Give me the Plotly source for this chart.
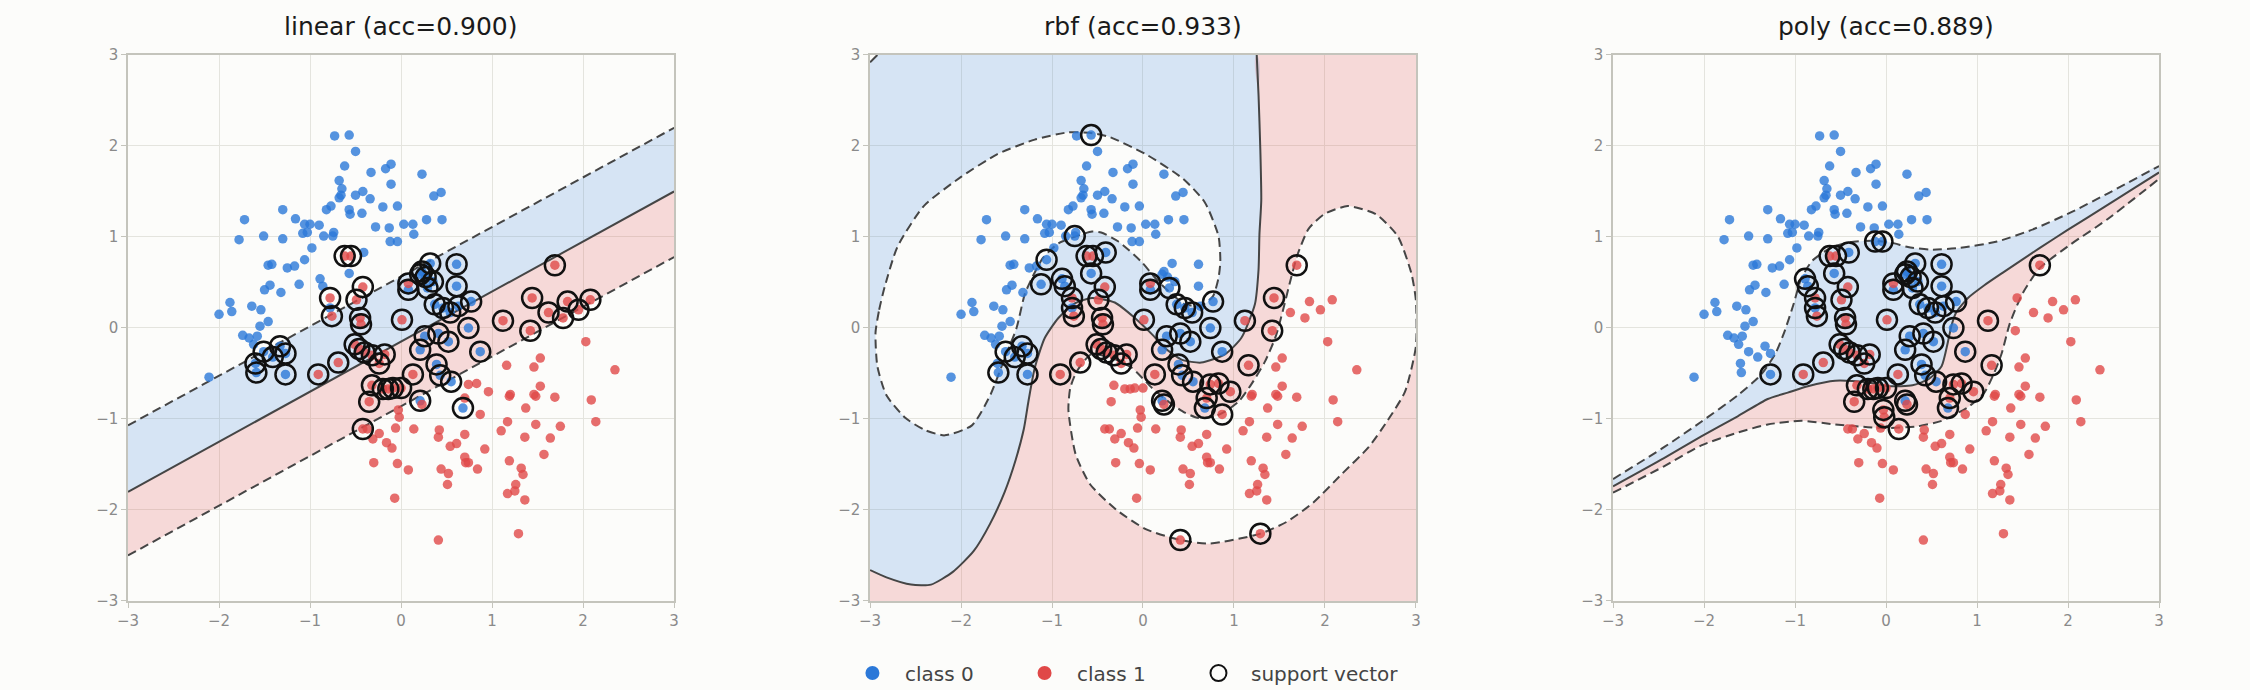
import plotly.graph_objects as go

# ---------------- data ----------------
titles = ["linear (acc=0.900)", "rbf (acc=0.933)", "poly (acc=0.889)"]
tick_vals = [-3, -2, -1, 0, 1, 2, 3]

class0_points = [
    (-0.73, 2.11), (-0.57, 2.12), (-0.50, 1.94), (-0.62, 1.78), (-0.33, 1.71), (-0.11, 1.80), (-0.17, 1.75), (0.23, 1.69),
    (-0.68, 1.62), (-0.65, 1.53), (-0.66, 1.46), (-0.68, 1.43), (-0.50, 1.46), (-0.42, 1.50), (-0.34, 1.42), (-0.11, 1.58),
    (-0.04, 1.34), (0.36, 1.45), (0.44, 1.49), (-0.57, 1.30), (-0.56, 1.25), (-0.43, 1.26), (-0.20, 1.33), (-0.82, 1.30),
    (-0.77, 1.34), (-1.30, 1.30), (-1.16, 1.20), (-1.72, 1.19), (-1.06, 1.14), (-1.00, 1.14), (-0.90, 1.13), (-1.08, 1.04),
    (-1.03, 1.05), (-0.85, 1.01), (-0.74, 1.05), (-0.75, 1.01), (-0.28, 1.11), (-0.13, 1.10), (0.03, 1.14), (0.13, 1.14),
    (0.28, 1.19), (0.45, 1.19), (0.14, 1.03), (-1.78, 0.97), (-1.51, 1.01), (-1.30, 0.98), (-0.98, 0.88), (-1.06, 0.75),
    (-1.46, 0.69), (-1.42, 0.70), (-1.25, 0.66), (-1.17, 0.68), (-1.12, 0.48), (-1.44, 0.47), (-1.50, 0.42), (-1.32, 0.39),
    (-1.88, 0.28), (-1.86, 0.18), (-2.00, 0.15), (-1.64, 0.24), (-1.54, 0.20), (-1.46, 0.07), (-1.55, 0.02), (-1.58, -0.09),
    (-1.74, -0.08), (-1.67, -0.11), (-1.62, -0.18), (-1.51, -0.26), (-1.33, -0.20), (-1.41, -0.32), (-1.27, -0.28), (-1.60, -0.39),
    (-1.59, -0.49), (-2.11, -0.54), (-1.27, -0.51),
    (-0.89, 0.54), (-0.86, 0.46), (-0.57, 0.60), (-0.41, 0.83), (-0.78, 0.22), (-0.12, 0.95), (-0.04, 0.95),
    (0.32, 0.71), (0.61, 0.70), (0.23, 0.62), (0.21, 0.59), (0.27, 0.56), (0.35, 0.51), (0.08, 0.42), (0.29, 0.44), (0.61, 0.46),
    (0.37, 0.26), (0.46, 0.22), (0.54, 0.17), (0.63, 0.24), (0.77, 0.29), (0.74, 0.00), (0.26, -0.09), (0.21, -0.24), (0.41, -0.06),
    (0.52, -0.15), (0.39, -0.40), (0.43, -0.52), (0.55, -0.59), (0.87, -0.26), (0.68, -0.88), (0.21, -0.80),
]

class1_points = [
    (-0.62, 0.79), (-0.55, 0.79), (-0.42, 0.45), (-0.49, 0.31), (-0.78, 0.33), (-0.76, 0.13), (-0.45, 0.11), (-0.44, 0.04),
    (0.01, 0.09), (0.08, 0.49), (-0.51, -0.18), (-0.46, -0.23), (-0.40, -0.27), (-0.32, -0.30), (-0.24, -0.39), (-0.18, -0.29),
    (-0.69, -0.38), (-0.91, -0.51), (-0.32, -0.63), (-0.20, -0.67), (-0.14, -0.67), (-0.09, -0.66), (0.00, -0.66), (-0.35, -0.81),
    (0.13, -0.51), (1.12, 0.08), (0.74, -0.62), (0.83, -0.61), (0.96, -0.70), (1.16, -0.41), (0.70, -0.77), (-0.03, -0.90),
    (-0.02, -0.98), (0.23, -0.84), (0.14, -1.11), (1.69, 0.69),
    (1.44, 0.33), (1.83, 0.29), (2.08, 0.31), (1.62, 0.17), (1.78, 0.11), (1.95, 0.20), (1.42, -0.03), (2.03, -0.15),
    (1.53, -0.33), (1.46, -0.43), (2.35, -0.46), (1.53, -0.64), (1.46, -0.73), (1.48, -0.75), (1.20, -0.73), (1.19, -0.75),
    (1.69, -0.76), (2.09, -0.79), (1.37, -0.88), (0.87, -0.95), (1.17, -1.03), (1.48, -1.06), (1.75, -1.08), (2.14, -1.03),
    (1.10, -1.13), (1.36, -1.20), (1.64, -1.21), (0.92, -1.33), (0.61, -1.27), (0.54, -1.30), (0.70, -1.42), (0.71, -1.48),
    (0.74, -1.48), (0.84, -1.55), (1.19, -1.46), (1.57, -1.39), (1.32, -1.54), (1.34, -1.61), (1.26, -1.72), (1.17, -1.82),
    (1.25, -1.79), (1.36, -1.89), (0.44, -1.55), (0.52, -1.60), (0.51, -1.72), (0.41, -1.20), (0.42, -1.12), (0.08, -1.56),
    (-0.04, -1.49), (-0.07, -1.87), (-0.10, -1.32), (-0.16, -1.26), (-0.24, -1.16), (-0.31, -1.22), (-0.30, -1.48), (-0.42, -1.11),
    (-0.37, -1.11), (0.41, -2.33), (1.29, -2.26), (0.70, -1.17), (-0.06, -1.10),
]

sv_linear = [
    (-1.60, -0.39), (-1.59, -0.49), (-1.51, -0.26), (-1.41, -0.32), (-1.33, -0.20), (-1.27, -0.28), (-1.27, -0.51),
    (0.32, 0.71), (0.61, 0.70), (0.23, 0.62), (0.21, 0.59), (0.27, 0.56), (0.35, 0.51), (0.08, 0.42), (0.29, 0.44), (0.61, 0.46),
    (0.37, 0.26), (0.46, 0.22), (0.54, 0.17), (0.63, 0.24), (0.77, 0.29), (0.74, 0.00), (0.26, -0.09), (0.21, -0.24), (0.41, -0.06),
    (0.52, -0.15), (0.39, -0.40), (0.43, -0.52), (0.55, -0.59), (0.87, -0.26), (0.68, -0.88), (0.21, -0.80),
    (-0.62, 0.79), (-0.55, 0.79), (-0.42, 0.45), (-0.49, 0.31), (-0.78, 0.33), (-0.76, 0.13), (-0.45, 0.11), (-0.44, 0.04),
    (0.01, 0.09), (0.08, 0.49), (-0.51, -0.18), (-0.46, -0.23), (-0.40, -0.27), (-0.32, -0.30), (-0.24, -0.39), (-0.18, -0.29),
    (-0.69, -0.38), (-0.91, -0.51), (-0.32, -0.63), (-0.20, -0.67), (-0.14, -0.67), (-0.09, -0.66), (0.00, -0.66), (-0.35, -0.81),
    (0.13, -0.51), (1.12, 0.08), (-0.42, -1.11), (1.69, 0.69), (1.44, 0.33), (1.83, 0.29), (2.08, 0.31), (1.62, 0.17),
    (1.78, 0.11), (1.95, 0.20), (1.42, -0.03),
]

sv_rbf = [
    (-0.57, 2.12), (-0.75, 1.01), (-1.06, 0.75), (-1.12, 0.48), (-0.89, 0.54), (-0.86, 0.46), (-0.78, 0.22), (-0.41, 0.83),
    (-0.57, 0.60), (-1.51, -0.26), (-1.41, -0.32), (-1.33, -0.20), (-1.27, -0.28), (-1.59, -0.49), (-1.27, -0.51), (0.08, 0.42),
    (0.29, 0.44), (0.37, 0.26), (0.46, 0.22), (0.54, 0.17), (0.77, 0.29), (0.74, 0.00), (0.26, -0.09), (0.41, -0.06),
    (0.52, -0.15), (0.21, -0.24), (0.87, -0.26), (0.39, -0.40), (0.43, -0.52), (0.55, -0.59), (0.21, -0.80), (0.68, -0.88),
    (-0.78, 0.33), (-0.76, 0.13), (-0.62, 0.79), (-0.55, 0.79), (-0.42, 0.45), (-0.49, 0.31), (-0.45, 0.11), (-0.44, 0.04),
    (-0.51, -0.18), (-0.46, -0.23), (-0.40, -0.27), (-0.32, -0.30), (-0.18, -0.29), (-0.24, -0.39), (-0.69, -0.38), (-0.91, -0.51),
    (0.01, 0.09), (0.08, 0.49), (0.13, -0.51), (0.23, -0.84), (0.74, -0.62), (0.83, -0.61), (0.96, -0.70), (0.70, -0.77),
    (0.87, -0.95), (1.12, 0.08), (1.16, -0.41), (1.44, 0.33), (1.42, -0.03), (1.69, 0.69), (0.41, -2.33), (1.29, -2.26),
]

sv_poly = [
    (-0.12, 0.95), (-0.04, 0.95), (-0.41, 0.83), (-0.57, 0.60), (-0.89, 0.54), (-0.86, 0.46), (-0.78, 0.22), (-1.27, -0.51),
    (0.08, 0.42), (0.32, 0.71), (0.61, 0.70), (0.23, 0.62), (0.21, 0.59), (0.27, 0.56), (0.35, 0.51), (0.61, 0.46),
    (0.29, 0.44), (0.37, 0.26), (0.46, 0.22), (0.54, 0.17), (0.63, 0.24), (0.77, 0.29), (0.74, 0.00), (0.26, -0.09),
    (0.41, -0.06), (0.52, -0.15), (0.21, -0.24), (0.87, -0.26), (0.39, -0.40), (0.43, -0.52), (0.55, -0.59), (0.21, -0.80),
    (0.68, -0.88),
    (-0.62, 0.79), (-0.55, 0.79), (-0.42, 0.45), (-0.49, 0.31), (-0.78, 0.33), (-0.76, 0.13), (-0.45, 0.11), (-0.44, 0.04),
    (-0.51, -0.18), (-0.46, -0.23), (-0.40, -0.27), (-0.32, -0.30), (-0.18, -0.29), (-0.24, -0.39), (-0.69, -0.38), (-0.91, -0.51),
    (0.01, 0.09), (0.08, 0.49), (0.13, -0.51), (0.23, -0.84), (0.74, -0.62), (0.83, -0.61), (0.96, -0.70), (0.70, -0.77),
    (1.12, 0.08), (1.16, -0.41), (1.69, 0.69), (-0.32, -0.63), (-0.35, -0.81), (-0.20, -0.67), (-0.14, -0.67), (-0.09, -0.66),
    (0.00, -0.66), (-0.03, -0.90), (-0.02, -0.98), (0.14, -1.11),
]

# decision boundary (solid, f=0) and margins (dashed, f=+-1)
lin_x = [-3.0, 3.0]
lin_solid_y = [-1.80, 1.50]
lin_upper_y = [-1.07, 2.20]
lin_lower_y = [-2.50, 0.78]

rbf_solid = [
    (1.25, 3.0), (1.27, 2.56), (1.29, 1.95), (1.30, 1.40), (1.28, 1.03), (1.27, 0.64), (1.23, 0.26), (1.08, -0.11),
    (0.90, -0.29), (0.64, -0.38), (0.43, -0.35), (0.24, -0.22), (0.10, -0.07), (-0.09, 0.11), (-0.31, 0.28), (-0.56, 0.33),
    (-0.75, 0.27), (-0.93, 0.11), (-1.08, -0.11), (-1.19, -0.44), (-1.26, -0.81), (-1.31, -1.11), (-1.40, -1.45),
    (-1.52, -1.80), (-1.68, -2.15), (-1.86, -2.45), (-2.09, -2.68), (-2.33, -2.82), (-2.55, -2.82), (-2.82, -2.74), (-3.0, -2.66),
]
rbf_corner = [(-3.0, 2.92), (-2.92, 3.0)]
rbf_margin_a = [
    (-2.94, -0.05), (-2.90, 0.20), (-2.84, 0.45), (-2.70, 0.89), (-2.41, 1.34), (-2.00, 1.66), (-1.60, 1.91), (-1.19, 2.07),
    (-0.82, 2.15), (-0.55, 2.14), (-0.37, 2.10), (0.03, 1.91), (0.44, 1.64), (0.68, 1.38), (0.83, 1.01), (0.85, 0.73),
    (0.83, 0.55), (0.77, 0.35), (0.65, 0.25), (0.46, 0.26), (0.32, 0.37), (0.17, 0.51), (-0.02, 0.73), (-0.27, 0.95),
    (-0.46, 1.05), (-0.56, 1.06), (-0.70, 1.02), (-0.93, 0.93), (-1.10, 0.77), (-1.22, 0.55), (-1.30, 0.37), (-1.39, 0.00),
    (-1.52, -0.33), (-1.68, -0.74), (-1.88, -1.07), (-2.18, -1.18), (-2.40, -1.12), (-2.61, -0.99), (-2.82, -0.74),
    (-2.92, -0.42), (-2.94, -0.05),
]
rbf_margin_b = [
    (-0.57, -0.29), (-0.34, -0.33), (-0.12, -0.44), (0.10, -0.66), (0.28, -0.81), (0.46, -0.93), (0.61, -0.99), (0.79, -0.97),
    (0.90, -0.92), (1.05, -0.81), (1.19, -0.62), (1.34, -0.37), (1.46, -0.09), (1.54, 0.20), (1.62, 0.52), (1.70, 0.81),
    (1.82, 1.09), (1.99, 1.25), (2.25, 1.34), (2.56, 1.25), (2.80, 1.01), (2.95, 0.60), (3.0, 0.30), (3.0, -0.20),
    (2.88, -0.70), (2.68, -1.03), (2.48, -1.31), (2.19, -1.60), (1.87, -1.92), (1.58, -2.13), (1.29, -2.26), (0.73, -2.37),
    (0.41, -2.33), (0.03, -2.21), (-0.29, -2.00), (-0.58, -1.72), (-0.74, -1.39), (-0.82, -0.90), (-0.80, -0.66),
    (-0.73, -0.48), (-0.57, -0.29),
]

poly_solid = [
    (-3.0, -1.74), (-2.44, -1.43), (-2.03, -1.19), (-1.63, -0.97), (-1.30, -0.78), (-1.08, -0.71), (-0.86, -0.64),
    (-0.56, -0.58), (-0.20, -0.60), (0.04, -0.64), (0.29, -0.63), (0.47, -0.56), (0.61, -0.42), (0.68, -0.15), (0.72, 0.03),
    (0.77, 0.17), (0.90, 0.33), (1.08, 0.47), (1.30, 0.62), (1.69, 0.88), (2.00, 1.08), (2.40, 1.33), (2.70, 1.52), (3.0, 1.71),
]
poly_upper = [
    (-3.0, -1.66), (-2.44, -1.31), (-2.03, -1.03), (-1.63, -0.74), (-1.38, -0.52), (-1.22, -0.29), (-1.12, -0.05),
    (-1.02, 0.25), (-0.93, 0.55), (-0.81, 0.74), (-0.61, 0.88), (-0.41, 0.94), (-0.15, 0.96), (0.05, 0.94), (0.24, 0.89),
    (0.49, 0.86), (0.81, 0.88), (1.22, 0.95), (1.63, 1.09), (2.03, 1.27), (2.44, 1.48), (3.0, 1.78),
]
poly_lower = [
    (-3.0, -1.81), (-2.44, -1.52), (-2.03, -1.29), (-1.63, -1.15), (-1.30, -1.06), (-0.93, -1.02), (-0.56, -1.06),
    (-0.20, -1.09), (0.00, -1.10), (0.35, -1.08), (0.61, -1.02), (0.90, -0.87), (1.08, -0.71), (1.19, -0.49), (1.27, -0.28),
    (1.36, 0.05), (1.50, 0.38), (1.69, 0.66), (2.03, 0.92), (2.44, 1.20), (3.0, 1.64),
]

legend_names = ["class 0", "class 1", "support vector"]

# ---------------- styling ----------------
BG = "#fcfcfa"
BLUE = "#2b78d8"
RED = "#e04848"
FILL_BLUE = "rgba(44,120,216,0.18)"
FILL_RED = "rgba(220,60,60,0.18)"
LINE = "#454545"
GRID = "#e4e4de"
AXIS = "#c4c4bc"
FONT = "DejaVu Sans"

x_domains = [(0.0569, 0.2996), (0.3867, 0.6293), (0.7169, 0.9596)]
y_domain = (0.1290, 0.9203)
legend_x = [0.3733, 0.4498, 0.5271]


def xs(pts):
    return [p[0] for p in pts]


def ys(pts):
    return [p[1] for p in pts]


def signed_area(px, py):
    return 0.5 * sum(px[i] * py[i + 1] - px[i + 1] * py[i] for i in range(len(px) - 1))


def with_hole(ox, oy, hx, hy):
    if (signed_area(ox + [ox[0]], oy + [oy[0]]) > 0) == (signed_area(hx, hy) > 0):
        hx, hy = hx[::-1], hy[::-1]
    return ox + [ox[0], None] + hx, oy + [oy[0], None] + hy


fig = go.Figure()


def axes(i):
    return ("x" if i == 0 else f"x{i + 1}", "y" if i == 0 else f"y{i + 1}")


def add_fill(i, fx, fy, color, smooth=False):
    xa, ya = axes(i)
    fig.add_trace(go.Scatter(x=fx, y=fy, mode="lines", fill="toself", fillcolor=color,
                             line=dict(width=0, color="rgba(0,0,0,0)",
                                       shape="spline" if smooth else "linear", smoothing=0.6),
                             hoverinfo="skip", showlegend=False, xaxis=xa, yaxis=ya))


def add_line(i, lx, ly, dashed, smooth=False):
    xa, ya = axes(i)
    fig.add_trace(go.Scatter(x=lx, y=ly, mode="lines",
                             line=dict(color=LINE, width=2, dash="9px,5px" if dashed else "solid",
                                       shape="spline" if smooth else "linear", smoothing=0.6),
                             hoverinfo="skip", showlegend=False, xaxis=xa, yaxis=ya))


# panel 1 : linear
add_fill(0, lin_x + lin_x[::-1], lin_upper_y + lin_solid_y[::-1], FILL_BLUE)
add_fill(0, lin_x + lin_x[::-1], lin_solid_y + lin_lower_y[::-1], FILL_RED)
add_line(0, lin_x, lin_upper_y, True)
add_line(0, lin_x, lin_lower_y, True)
add_line(0, lin_x, lin_solid_y, False)

# panel 2 : rbf
blue_outer = rbf_solid + [(-3.0, 2.92), (-2.92, 3.0)]
bx, by = with_hole(xs(blue_outer), ys(blue_outer), xs(rbf_margin_a), ys(rbf_margin_a))
add_fill(1, bx, by, FILL_BLUE, True)
red_outer = rbf_solid + [(-3.0, -3.0), (3.0, -3.0), (3.0, 3.0)]
rx, ry = with_hole(xs(red_outer), ys(red_outer), xs(rbf_margin_b), ys(rbf_margin_b))
add_fill(1, rx, ry, FILL_RED, True)
add_line(1, xs(rbf_margin_a), ys(rbf_margin_a), True, True)
add_line(1, xs(rbf_margin_b), ys(rbf_margin_b), True, True)
add_line(1, xs(rbf_solid), ys(rbf_solid), False, True)
add_line(1, xs(rbf_corner), ys(rbf_corner), False)

# panel 3 : poly
add_fill(2, xs(poly_upper) + xs(poly_solid)[::-1], ys(poly_upper) + ys(poly_solid)[::-1], FILL_BLUE, True)
add_fill(2, xs(poly_solid) + xs(poly_lower)[::-1], ys(poly_solid) + ys(poly_lower)[::-1], FILL_RED, True)
add_line(2, xs(poly_upper), ys(poly_upper), True, True)
add_line(2, xs(poly_lower), ys(poly_lower), True, True)
add_line(2, xs(poly_solid), ys(poly_solid), False, True)

sv_sets = [sv_linear, sv_rbf, sv_poly]
for i in range(3):
    xa, ya = axes(i)
    fig.add_trace(go.Scatter(x=xs(class0_points), y=ys(class0_points), mode="markers",
                             marker=dict(size=9.5, color=BLUE, opacity=0.8, line=dict(width=0)),
                             showlegend=False, xaxis=xa, yaxis=ya, name="class 0"))
    fig.add_trace(go.Scatter(x=xs(class1_points), y=ys(class1_points), mode="markers",
                             marker=dict(size=9.5, color=RED, opacity=0.8, line=dict(width=0)),
                             showlegend=False, xaxis=xa, yaxis=ya, name="class 1"))
    fig.add_trace(go.Scatter(x=xs(sv_sets[i]), y=ys(sv_sets[i]), mode="markers",
                             marker=dict(symbol="circle-open", size=20, color="#111111", line=dict(width=2.5)),
                             showlegend=False, xaxis=xa, yaxis=ya, name="support vector"))

# legend entries (one legend each, for exact placement)
legend_markers = [
    dict(size=14, color=BLUE),
    dict(size=14, color=RED),
    dict(symbol="circle-open", size=16, color="#111111", line=dict(width=2)),
]
for k in range(3):
    fig.add_trace(go.Scatter(x=[None], y=[None], mode="markers", name=legend_names[k],
                             marker=legend_markers[k], legend="legend" if k == 0 else f"legend{k + 1}"))

layout = dict(
    width=2250, height=690,
    margin=dict(l=0, r=0, t=0, b=0, autoexpand=False),
    paper_bgcolor=BG, plot_bgcolor=BG,
    font=dict(family=FONT, color="#333333"),
    showlegend=True,
    annotations=[],
)
for k in range(3):
    key = "legend" if k == 0 else f"legend{k + 1}"
    layout[key] = dict(orientation="h", x=legend_x[k], xanchor="left", y=0.0246, yanchor="middle",
                       font=dict(size=20, color="#444444"), bgcolor="rgba(0,0,0,0)", itemwidth=55)
for i in range(3):
    xa, ya = axes(i)
    xkey = "xaxis" if i == 0 else f"xaxis{i + 1}"
    ykey = "yaxis" if i == 0 else f"yaxis{i + 1}"
    common = dict(range=[-3, 3], tickmode="array", tickvals=tick_vals, showgrid=True, gridcolor=GRID,
                  gridwidth=1, zeroline=False, showline=True, linecolor=AXIS, linewidth=1.5, mirror=True,
                  ticks="outside", ticklen=5, tickwidth=1.2, tickcolor=AXIS,
                  tickfont=dict(size=15, color="#8a8a8a", family=FONT), layer="above traces",
                  fixedrange=True)
    layout[xkey] = dict(domain=list(x_domains[i]), anchor=ya, **common)
    layout[ykey] = dict(domain=list(y_domain), anchor=xa, **common)
    layout["annotations"].append(dict(
        text=titles[i], x=(x_domains[i][0] + x_domains[i][1]) / 2, y=1 - 27 / 690,
        xref="paper", yref="paper", xanchor="center", yanchor="middle", showarrow=False,
        font=dict(size=25, color="#1a1a1a", family=FONT)))

fig.update_layout(**layout)
fig.write_html("out.html")
